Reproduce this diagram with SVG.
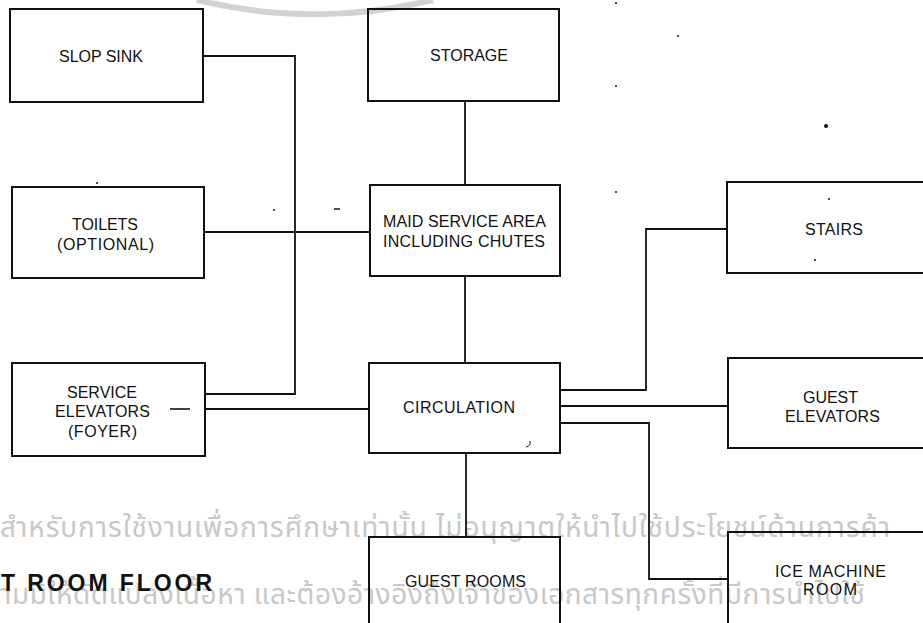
<svg xmlns="http://www.w3.org/2000/svg" width="923" height="623" viewBox="0 0 923 623">
<style>
.box{fill:none;stroke:#111;stroke-width:2}
.conn{fill:none;stroke:#111;stroke-width:1.8}
.lbl{font-family:"Liberation Sans",Arial,sans-serif;font-size:16px;fill:#111}
.title{font-family:"Liberation Sans",Arial,sans-serif;font-size:23px;font-weight:bold;fill:#111}
.wm{font-family:"Noto Sans Thai","Noto Sans","DejaVu Sans",sans-serif;font-size:28px;fill:#c8c8c8}
.dot{fill:#111}
</style>
<rect width="923" height="623" fill="#fff"/>
<g id="watermark">
<path d="M197,0 A504,504 0 0 0 433,0" fill="none" stroke="#d2d2d2" stroke-width="6"/>
<text class="wm" x="0" y="537" textLength="890" lengthAdjust="spacing">สำหรับการใช้งานเพื่อการศึกษาเท่านั้น ไม่อนุญาตให้นำไปใช้ประโยชน์ด้านการค้า</text>
<text class="wm" x="0" y="604" textLength="865" lengthAdjust="spacing">ามมิให้ดัดแปลงเนื้อหา และต้องอ้างอิงถึงเจ้าของเอกสารทุกครั้งที่มีการนำไปใช้</text>
</g>
<g id="connectors">
<path class="conn" d="M204,56 H295 V394 H205"/>
<path class="conn" d="M204,232 H370"/>
<path class="conn" d="M205,409 H369"/>
<path class="conn" d="M465,101 V185"/>
<path class="conn" d="M465,276 V363"/>
<path class="conn" d="M466,453 V537"/>
<path class="conn" d="M560,390 H646 V229 H727"/>
<path class="conn" d="M560,406 H728"/>
<path class="conn" d="M560,423 H649 V579 H728"/>
</g>
<g id="slop-sink">
<rect class="box" x="10" y="9" width="193" height="93"/>
<text class="lbl" x="59" y="62" textLength="84" lengthAdjust="spacing">SLOP SINK</text>
</g>
<g id="storage">
<rect class="box" x="368" y="9" width="191" height="92"/>
<text class="lbl" x="430" y="61" textLength="78" lengthAdjust="spacing">STORAGE</text>
</g>
<g id="toilets">
<rect class="box" x="12" y="187" width="192" height="91"/>
<text class="lbl" x="72" y="230" textLength="66" lengthAdjust="spacing">TOILETS</text>
<text class="lbl" x="57" y="250" textLength="97" lengthAdjust="spacing">(OPTIONAL)</text>
</g>
<g id="maid-service">
<rect class="box" x="370" y="185" width="190" height="91"/>
<text class="lbl" x="383" y="227" textLength="163" lengthAdjust="spacing">MAID SERVICE AREA</text>
<text class="lbl" x="383" y="247" textLength="162" lengthAdjust="spacing">INCLUDING CHUTES</text>
</g>
<g id="service-elevators">
<rect class="box" x="12" y="363" width="193" height="93"/>
<text class="lbl" x="67" y="398" textLength="70" lengthAdjust="spacing">SERVICE</text>
<text class="lbl" x="55" y="417" textLength="95" lengthAdjust="spacing">ELEVATORS</text>
<text class="lbl" x="68" y="437" textLength="69" lengthAdjust="spacing">(FOYER)</text>
<line x1="170" y1="409" x2="190" y2="409" stroke="#111" stroke-width="1.6"/>
</g>
<g id="circulation">
<rect class="box" x="369" y="363" width="191" height="90"/>
<text class="lbl" x="403" y="413" textLength="112" lengthAdjust="spacing">CIRCULATION</text>
</g>
<g id="stairs">
<rect class="box" x="727" y="182" width="205" height="91"/>
<text class="lbl" x="805" y="235" textLength="58" lengthAdjust="spacing">STAIRS</text>
</g>
<g id="guest-elevators">
<rect class="box" x="728" y="358" width="205" height="90"/>
<text class="lbl" x="803" y="403" textLength="55" lengthAdjust="spacing">GUEST</text>
<text class="lbl" x="785" y="422" textLength="95" lengthAdjust="spacing">ELEVATORS</text>
</g>
<g id="ice-machine-room">
<rect class="box" x="728" y="532" width="205" height="100"/>
<text class="lbl" x="775" y="577" textLength="111" lengthAdjust="spacing">ICE MACHINE</text>
<text class="lbl" x="803" y="595" textLength="54" lengthAdjust="spacing">ROOM</text>
</g>
<g id="guest-rooms">
<rect class="box" x="369" y="537" width="191" height="100"/>
<text class="lbl" x="405" y="587" textLength="121" lengthAdjust="spacing">GUEST ROOMS</text>
</g>
<g id="title">
<text class="title" x="1" y="591" textLength="211" lengthAdjust="spacing">T ROOM FLOOR</text>
</g>
<g id="specks">
<circle class="dot" cx="97" cy="183" r="1"/>
<circle class="dot" cx="274" cy="210" r="1"/>
<line x1="334" y1="209" x2="340" y2="209" stroke="#111" stroke-width="1.5"/>
<circle class="dot" cx="616" cy="3" r="1"/>
<circle class="dot" cx="678" cy="36" r="1"/>
<circle class="dot" cx="616" cy="86" r="1"/>
<circle class="dot" cx="826" cy="126" r="2"/>
<circle class="dot" cx="616" cy="192" r="1"/>
<circle class="dot" cx="829" cy="199" r="1"/>
<circle class="dot" cx="815" cy="260" r="1"/>
<path d="M526,447 Q531,446 530,441" fill="none" stroke="#111" stroke-width="1"/>
</g>
</svg>
